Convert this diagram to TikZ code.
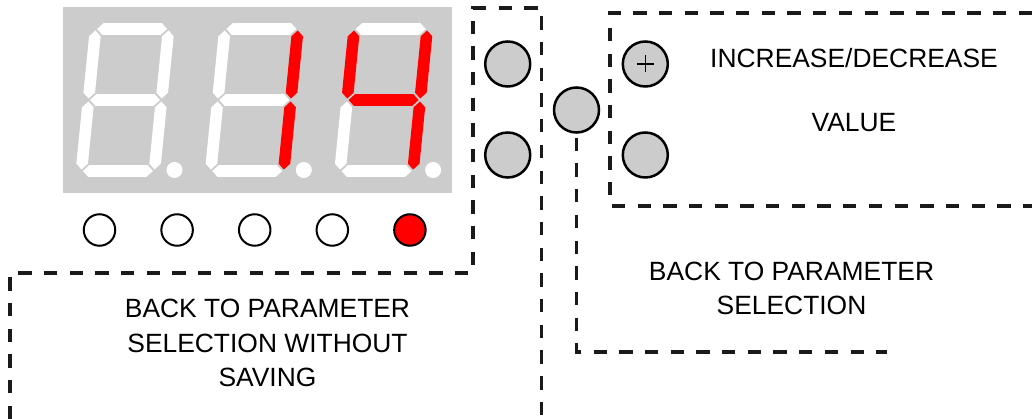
\documentclass[tikz,border=0pt]{standalone}
\usepackage{fontspec}
\setmainfont{Liberation Sans}
\definecolor{panelgray}{HTML}{CCCCCC}
\definecolor{ledred}{HTML}{FF0000}
\definecolor{dashcol}{HTML}{1A1A1A}
\tikzset{
  dline/.style={draw=dashcol, line width=3.2pt, dash pattern=on 13.3pt off 12.4pt},
  btn/.style={circle, draw=black, line width=2.5pt, fill=panelgray, minimum size=45pt, inner sep=0pt},
  led/.style={circle, draw=black, line width=2pt, fill=white, minimum size=31.5pt, inner sep=0pt},
  lbl/.style={align=center, inner sep=0pt, font=\fontsize{26.4}{34.8}\selectfont},
}
\newcommand\hsg[3]{\fill[#1] ({#2-35},{#3}) -- ({#2-29.2},{#3-5.8}) -- ({#2+29.2},{#3-5.8}) -- ({#2+35},{#3}) -- ({#2+29.2},{#3+5.8}) -- ({#2-29.2},{#3+5.8}) -- cycle;}
\newcommand\vsg[3]{\fill[#1] ({#2},{#3-34}) -- ({#2+5.8},{#3-28.2}) -- ({#2+5.8},{#3+28.2}) -- ({#2},{#3+34}) -- ({#2-5.8},{#3+28.2}) -- ({#2-5.8},{#3-28.2}) -- cycle;}
\newcommand\sevenseg[9]{%
  \begin{scope}[shift={(#1,#2)}, xslant=0.1]
    \hsg{#3}{0}{-71}
    \vsg{#4}{36.5}{-35.5}
    \vsg{#5}{36.5}{35.5}
    \hsg{#6}{0}{71}
    \vsg{#7}{-36.5}{35.5}
    \vsg{#8}{-36.5}{-35.5}
    \hsg{#9}{0}{0}
  \end{scope}
  \fill[white] ({#1+49.5},{#2+70}) circle (8pt);}
\begin{document}
\begin{tikzpicture}[x=1pt,y=-1pt]
\useasboundingbox (0,0) rectangle (1032,419);
% display
\node[fill=panelgray, minimum width=388.5pt, minimum height=185.7pt, anchor=north west, inner sep=0pt] (disp) at (63,7) {};
\sevenseg{125}{100}{white}{white}{white}{white}{white}{white}{white}
\sevenseg{254.3}{100}{white}{ledred}{ledred}{white}{white}{white}{white}
\sevenseg{383.6}{100}{white}{ledred}{ledred}{white}{white}{ledred}{ledred}
% leds
\node[led] (l1) at (99.5,230) {};
\node[led] (l2) at (177.1,230) {};
\node[led] (l3) at (254.7,230) {};
\node[led] (l4) at (332.3,230) {};
\node[led, fill=ledred] (l5) at (409.9,230) {};
% buttons
\node[btn] (b1) at (507.7,64) {};
\node[btn] (b2) at (507.7,155) {};
\node[btn] (bm) at (576.5,110) {};
\node[btn] (bp) at (645.3,64) {};
\node[btn] (bn) at (645.3,155) {};
\draw[line width=1.3pt] ([xshift=-8.5pt]bp.center) -- ([xshift=8.5pt]bp.center);
\draw[line width=1.3pt] ([yshift=-8.5pt]bp.center) -- ([yshift=8.5pt]bp.center);
% dashed frames
\coordinate (a0) at (10,419);
\coordinate (a1) at (10,273);
\coordinate (a2) at (473,273);
\coordinate (a3) at (473,8);
\coordinate (a4) at (541.5,8);
\coordinate (a5) at (541.5,419);
\draw[dline] (a0) -- (a1) -- (a2) -- (a3) -- (a4) -- (a5);
\coordinate (r0) at (1032,13);
\coordinate (r1) at (610,13);
\coordinate (r2) at (610,206);
\coordinate (r3) at (1032,206);
\draw[dline] (r0) -- (r1) -- (r2) -- (r3);
\coordinate (c1) at (576.5,352);
\coordinate (c2) at (886.7,352);
\draw[dline] ([yshift=-4pt]bm.south) -- (c1) -- (c2);
% labels
\node[lbl] (t1) at (267.5,343) {BACK TO PARAMETER\\SELECTION WITHOUT\\SAVING};
\node[lbl] (t2) at (791.5,288.5) {BACK TO PARAMETER\\SELECTION};
\node[lbl] (t3) at (854,90) {INCREASE/DECREASE\\[28.6pt]VALUE};
\end{tikzpicture}
\end{document}
